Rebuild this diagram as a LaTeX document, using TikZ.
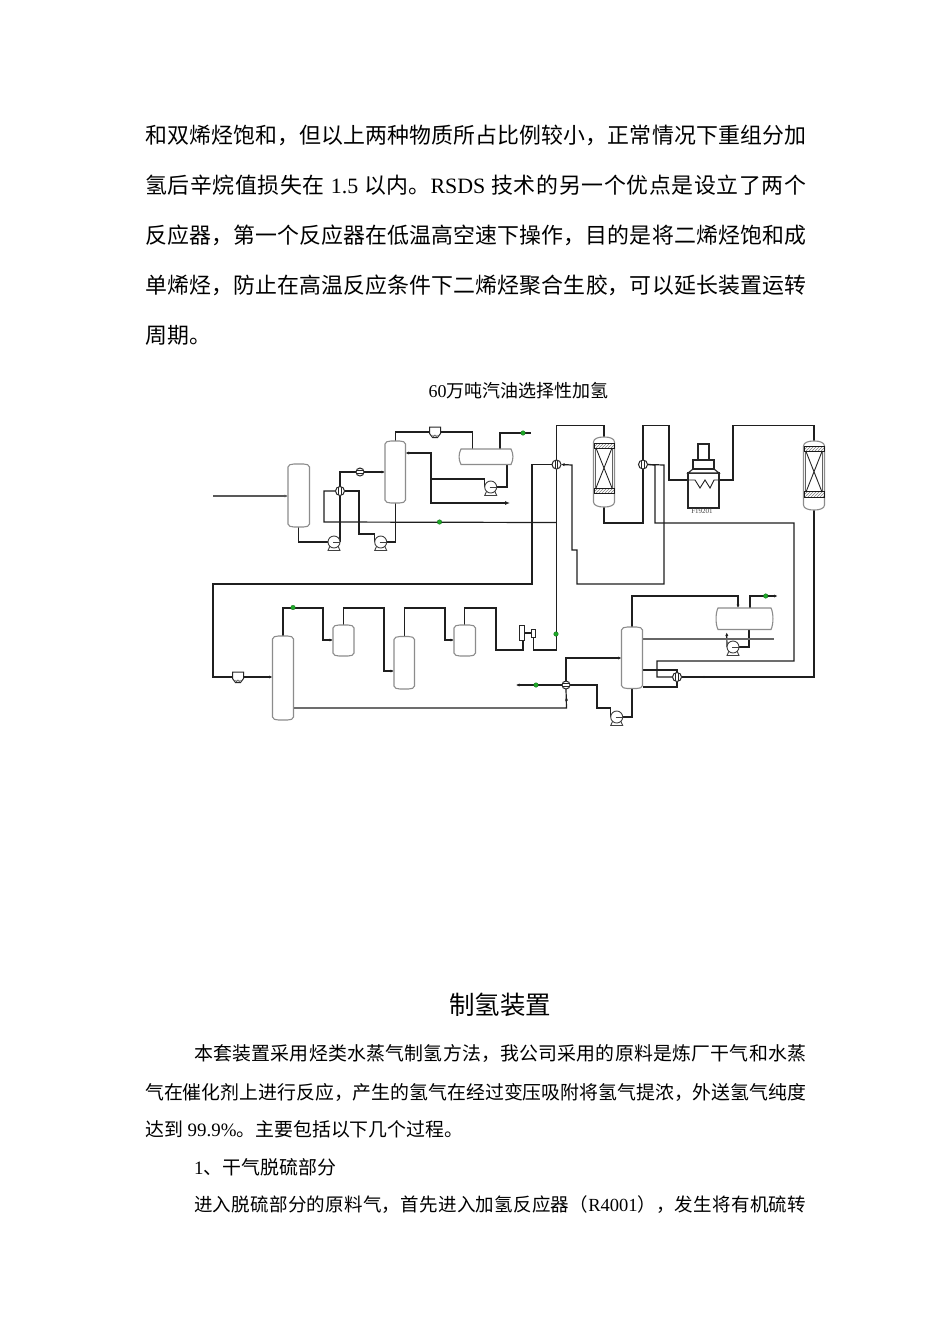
\documentclass[tikz,border=0pt]{standalone}
\usepackage{fontspec}
\setmainfont{Liberation Serif}
\newfontfamily\cjk{Noto Sans CJK SC}
\usetikzlibrary{arrows.meta,backgrounds,patterns}
\XeTeXlinebreaklocale "zh"
\XeTeXlinebreakskip=0pt plus 3pt minus 0.1pt
\newcommand{\zh}[1]{{\cjk #1}}
\newcommand{\jline}[2]{\parbox{#1pt}{\parfillskip=0pt\noindent #2}}
\definecolor{pipecol}{gray}{0.12}
\definecolor{shellcol}{gray}{0.55}
\definecolor{dotgreen}{RGB}{30,170,40}
\tikzset{
  pipe/.style={draw=pipecol,line width=1.2pt},
  pipetip/.style={-{Latex[length=3.5pt,width=3.2pt]}},
  shell/.style={draw=shellcol,line width=1.1pt,fill=white},
  anchorbox/.style={inner sep=0pt,outer sep=0pt},
  gdot/.style={circle,fill=dotgreen,draw=dotgreen!60!black,line width=0.3pt,minimum size=4.6pt,inner sep=0pt},
  hxbody/.style={circle,draw=black!85,fill=white,line width=1pt,minimum size=9pt,inner sep=0pt,outer sep=0pt},
  pumpbody/.style={circle,draw=black!75,fill=white,line width=0.9pt,minimum size=12pt,inner sep=0pt,outer sep=0pt},
  boxunit/.style={draw=black!85,fill=white,line width=1pt,inner sep=0pt,outer sep=0pt},
  bedbar/.style={draw=black!90,line width=1pt,pattern=north east lines,pattern color=gray,inner sep=0pt,outer sep=0pt},
  bodytext/.style={anchor=west,inner sep=0pt,font=\fontsize{21.9}{26}\selectfont},
  smalltext/.style={anchor=west,inner sep=0pt,font=\fontsize{18.9}{23}\selectfont},
}
% tall vessel: [head depth]{name}{x1}{y1}{x2}{y2}
\newcommand{\vessel}[6][3]{%
  \pgfmathsetmacro\vw{#5-#3}\pgfmathsetmacro\vh{#6-#4}%
  \node[anchorbox,minimum width=\vw pt,minimum height=\vh pt] (#2) at ({(#3+#5)/2},{(#4+#6)/2}) {};
  \draw[shell] (#3,{#4+#1}) .. controls (#3,{#4+0.3*#1}) and ({#3+#1},#4) .. ({#3+2*#1},#4)
     -- ({#5-2*#1},#4) .. controls ({#5-#1},#4) and (#5,{#4+0.3*#1}) .. (#5,{#4+#1})
     -- (#5,{#6-#1}) .. controls (#5,{#6-0.3*#1}) and ({#5-#1},#6) .. ({#5-2*#1},#6)
     -- ({#3+2*#1},#6) .. controls ({#3+#1},#6) and (#3,{#6-0.3*#1}) .. (#3,{#6-#1}) -- cycle;
}
% horizontal drum: {name}{x1}{y1}{x2}{y2}
\newcommand{\drum}[5]{%
  \pgfmathsetmacro\vw{#4-#2}\pgfmathsetmacro\vh{#5-#3}%
  \node[anchorbox,minimum width=\vw pt,minimum height=\vh pt] (#1) at ({(#2+#4)/2},{(#3+#5)/2}) {};
  \draw[shell] ({#2+2},#3) -- ({#4-2},#3) .. controls ({#4+0.6},{#3+5}) and ({#4+0.6},{#5-5}) .. ({#4-2},#5)
    -- ({#2+2},#5) .. controls ({#2-0.6},{#5-5}) and ({#2-0.6},{#3+5}) .. ({#2+2},#3) -- cycle;
}
% pump: {name}{x}{y}
\newcommand{\pump}[3]{%
  \draw[black!75,line width=0.9pt,fill=white] ({#2-4},{#3+4}) -- ({#2-6},{#3+8.5}) -- ({#2+6},{#3+8.5}) -- ({#2+4},{#3+4}) -- cycle;
  \node[pumpbody] (#1) at (#2,#3) {};
  \draw[black!75,line width=0.8pt] ({#2-1},#3) -- ({#2+6},#3);
}
% shell and tube exchanger with vertical tubes: {name}{x}{y}
\newcommand{\hxv}[3]{%
  \node[hxbody] (#1) at (#2,#3) {};
  \draw[black!85,line width=0.9pt] ({#2-1.3},{#3-4}) -- ({#2-1.3},{#3+4}) ({#2+1.3},{#3-4}) -- ({#2+1.3},{#3+4});
}
% exchanger with horizontal tubes
\newcommand{\hxh}[3]{%
  \node[hxbody,minimum size=8pt] (#1) at (#2,#3) {};
  \draw[black!85,line width=0.9pt] ({#2-3.6},{#3-1.2}) -- ({#2+3.6},{#3-1.2}) ({#2-3.6},{#3+1.2}) -- ({#2+3.6},{#3+1.2});
}
% small compressor box: {name}{x}{y}
\newcommand{\cbox}[3]{%
  \node[anchorbox,minimum width=11pt,minimum height=10pt] (#1) at (#2,#3) {};
  \draw[boxunit] ({#2-5.5},{#3-5}) -- ({#2+5.5},{#3-5}) -- ({#2+5.5},{#3+1.5}) -- ({#2+2.5},{#3+5.5}) -- ({#2-2.5},{#3+5.5}) -- ({#2-5.5},{#3+1.5}) -- cycle;
  \draw[black!70,line width=0.6pt] ({#2-2.5},{#3+3}) arc[start angle=180,end angle=360,x radius=1.2,y radius=-1.6] arc[start angle=180,end angle=360,x radius=1.3,y radius=-1.6];
}
\begin{document}
\begin{tikzpicture}[x=1pt,y=-1pt]
\useasboundingbox (0,0) rectangle (950,1344);

% ---------- text ----------
\node[bodytext] (t1) at (145,135) {\jline{661}{\zh{和双烯烃饱和，但以上两种物质所占比例较小，正常情况下重组分加}}};
\node[bodytext] (t2) at (145,185) {\jline{661}{\zh{氢后辛烷值损失在} 1.5 \zh{以内。}RSDS \zh{技术的另一个优点是设立了两个}}};
\node[bodytext] (t3) at (145,235) {\jline{661}{\zh{反应器，第一个反应器在低温高空速下操作，目的是将二烯烃饱和成}}};
\node[bodytext] (t4) at (145,285) {\jline{661}{\zh{单烯烃，防止在高温反应条件下二烯烃聚合生胶，可以延长装置运转}}};
\node[bodytext] (t5) at (145,335) {\zh{周期。}};
\node[inner sep=0pt,font=\fontsize{18}{20}\selectfont] (cap) at (518.5,391) {60\zh{万吨汽油选择性加氢}};
\node[inner sep=0pt,font=\fontsize{25.5}{30}\selectfont] (head) at (500,1005) {\zh{制氢装置}};
\node[smalltext] (b1) at (194,1054) {\jline{612}{\zh{本套装置采用烃类水蒸气制氢方法，我公司采用的原料是炼厂干气和水蒸}}};
\node[smalltext] (b2) at (145,1092) {\jline{661}{\zh{气在催化剂上进行反应，产生的氢气在经过变压吸附将氢气提浓，外送氢气纯度}}};
\node[smalltext] (b3) at (145,1129) {\zh{达到} 99.9\%\zh{。主要包括以下几个过程。}};
\node[smalltext] (b4) at (194,1167) {1\zh{、干气脱硫部分}};
\node[smalltext,font=\fontsize{18.5}{23}\selectfont] (b5) at (194,1205) {\jline{612}{\zh{进入脱硫部分的原料气，首先进入加氢反应器（}R4001\zh{），发生将有机硫转}}};

% ---------- equipment ----------
\vessel{V1}{288}{464}{309.5}{527}
\vessel{T2}{385}{441}{405.5}{503}
\drum{D1}{459}{449}{513}{464.5}
\vessel{T1}{272.5}{636}{293.5}{720}
\vessel{V3}{333}{625}{354}{656}
\vessel{V4}{394}{636.5}{414.5}{689}
\vessel{V5}{454}{625}{475.5}{656}
\vessel{T3}{621.5}{627}{642.5}{688.5}
\drum{D2}{716}{608}{773}{629.5}
\vessel[5]{R1}{593.5}{437}{614.5}{507}
\vessel[5]{R2}{803.5}{441}{824.5}{510}
\pump{P1}{334}{542}
\pump{P2}{380.7}{542}
\pump{P3}{490.7}{487}
\pump{P4}{616.7}{717}
\pump{P5}{733}{647}
\hxv{E1}{340}{491}
\hxv{E2}{556.5}{464.5}
\hxv{E3}{643}{464.5}
\hxv{E5}{677}{677}
\hxh{C1}{360}{472}
\hxh{E4}{566}{685}
\cbox{K1}{435}{432}
\cbox{K2}{238}{677}
\node[boxunit,draw,minimum width=5.5pt,minimum height=15pt] (S1) at (522,632.5) {};
\node[boxunit,draw,minimum width=4.5pt,minimum height=8pt] (S2) at (533.5,633) {};

% reactor internals
\draw[black!85,line width=0.9pt] (596,448) -- (612,488) (612,448) -- (596,488);
\draw[shellcol!70!black,line width=0.7pt] (595.5,448) -- (595.5,488) (612.5,448) -- (612.5,488);
\node[bedbar,draw,minimum width=20pt,minimum height=5pt] (B1) at (604,445.5) {};
\node[bedbar,draw,minimum width=20pt,minimum height=5.5pt] (B2) at (604,491) {};
\draw[black!85,line width=0.9pt] (806,451.5) -- (822,492) (822,451.5) -- (806,492);
\draw[shellcol!70!black,line width=0.7pt] (805.5,451.5) -- (805.5,492) (822.5,451.5) -- (822.5,492);
\node[bedbar,draw,minimum width=20pt,minimum height=4.8pt] (B3) at (814,449) {};
\node[bedbar,draw,minimum width=20pt,minimum height=5.4pt] (B4) at (814,494.5) {};

% furnace
\node[anchorbox,draw=black!85,line width=1.1pt,fill=white,minimum width=31pt,minimum height=35pt] (FU) at (703.5,490.5) {};
\draw[black!85,line width=1.1pt,fill=white] (688,473) -- (693,469) -- (714,469) -- (719,473) -- cycle;
\node[anchorbox,draw=black!85,line width=1.1pt,fill=white,minimum width=21pt,minimum height=9pt] (FU2) at (703.5,464.5) {};
\node[anchorbox,draw=black!85,line width=1.1pt,fill=white,minimum width=11pt,minimum height=16pt] (FU3) at (703.5,452) {};
\draw[pipecol,line width=0.9pt] (FU.west |- 0,480) -- (695,480) -- (700,488) -- (705,480) -- (710,488) -- (714,480) -- (FU.east |- 0,480);
\node[inner sep=0pt,text=black!75,font=\fontsize{7}{8}\selectfont] (FL) at (702,511) {F19201};

% green markers
\node[gdot] (G1) at (439.5,522) {};
\node[gdot] (G2) at (523,433) {};
\node[gdot] (G3) at (293,607.5) {};
\node[gdot] (G4) at (556,634) {};
\node[gdot] (G5) at (536,685) {};
\node[gdot] (G6) at (765.7,596) {};

% free ends
\coordinate (J1) at (556.5,522.5);
\coordinate (F1) at (213,496);
\coordinate (F2) at (530.5,433);
\coordinate (F3) at (510,503);
\coordinate (F4) at (516,685);
\coordinate (F5) at (777.5,596);
\coordinate (F6) at (726.7,632.5);
\coordinate (F7) at (773.5,639);
\coordinate (D4) at (704,677);

% ---------- pipes ----------
\begin{scope}[on background layer]
\fill[white] (0,0) rectangle (950,1344);
\draw[pipe,draw=black!65,pipetip] (F1) -- (V1.west |- F1);
\draw[pipe] (V1.south) |- (P1.west);
\draw[pipe] (P1.east) -- (E1.south);
\draw[pipe] (E1.north) |- (C1.west);
\draw[pipe,pipetip] (C1.east) -- (T2.west |- C1.east);
\draw[pipe] (E1.west) -| (324,522) -- (J1);
\draw[pipe] (E1.east) -- (359,491) -- (359,534) -- (374.7,534) -- (P2.west);
\draw[pipe] (P2.east) -| (T2.south);
\draw[pipe] (T2.north) |- (K1.west);
\draw[pipe] (K1.east) -| (472.7,0 |- D1.north);
\draw[pipe] (500,0 |- D1.north) |- (F2);
\draw[pipe] (507,0 |- D1.south) |- (P3.east);
\draw[pipe,pipetip] (P3.west) -- (484.7,479) -- (431,479) -- (431,453) -- (T2.east |- 0,453);
\draw[pipe,-{Latex[length=5pt,width=4pt]}] (431,479) -- (431,503) -- (F3);

\draw[pipe] (E2.north) |- (R1.north |- 0,425.5) -- (R1.north);
\draw[pipe] (E2.west) -| (532,584) -- (213,584) -- (213,677) -- (K2.west);
\draw[pipe,pipetip] (K2.east) -- (T1.west |- K2.east);
\draw[pipe,pipetip] (T1.north) |- (323,608) -- (323,640) -- (V3.west |- 0,640);
\draw[pipe,pipetip] (V3.north) |- (384,608) -- (384,671) -- (V4.west |- 0,671);
\draw[pipe,pipetip] (V4.north) |- (445,608) -- (445,640) -- (V5.west |- 0,640);
\draw[pipe] (V5.north) |- (496,608) -- (496,650) -- (523,650) -- (523,0 |- S1.south);
\draw[pipe] (S1.east |- S2.west) -- (S2.west);
\draw[pipe] (S2.south) |- (556.5,650) -- (E2.south);

\draw[pipe] (T1.east |- 0,708) -- (566.5,708) -- (E4.south);
\draw[pipe,pipetip] (566.5,708) -- (566.5,697);
\draw[pipe,pipetip] (E4.north) |- (T3.west |- 0,658);
\draw[pipe,pipetip] (E4.west) -- (F4);
\draw[pipe] (E4.east) -- (597,685) -- (597,708) -- (610.7,708) -- (P4.west);
\draw[pipe] (P4.east) -| (T3.south);
\draw[pipe,pipetip] (T3.north) |- (738,596) -- (738,0 |- D2.north);
\draw[pipe,pipetip] (750,0 |- D2.north) |- (F5);
\draw[pipe] (749,0 |- D2.south) |- (P5.east);
\draw[pipe,pipetip] (P5.west) -- (F6);
\draw[pipe,line width=1.4pt,draw=black!60] (T3.east |- F7) -- (F7);
\draw[pipe] (T3.east |- 0,670) -| (E5.north);
\draw[pipe] (T3.east |- 0,687) -| (E5.south);
\draw[pipe] (E5.west) -- (657,677) -- (657,661) -- (794,661) -- (794,523) -- (655,523) -- (655,465) -- (E3.east);
\draw[pipe,pipetip] (E3.east) -- (664,465) -- (664,584) -- (577,584) -- (577,550) -- (572,550) -- (572,465) -- (E2.east);
\draw[pipe] (E5.east) -- (814,677) -- (R2.south);
\fill[pipecol] (D4) circle (1.2pt);
\draw[pipe] (R2.north) |- (733,425.5) -- (733,480) -- (FU.east |- 0,480);
\draw[pipe] (FU.west |- 0,480) -- (669,480) -- (669,425.5) -- (643,425.5) -- (E3.north);
\draw[pipe] (E3.south) -- (643,523) -- (604,523) -- (R1.south);
\end{scope}
\end{tikzpicture}
\end{document}
